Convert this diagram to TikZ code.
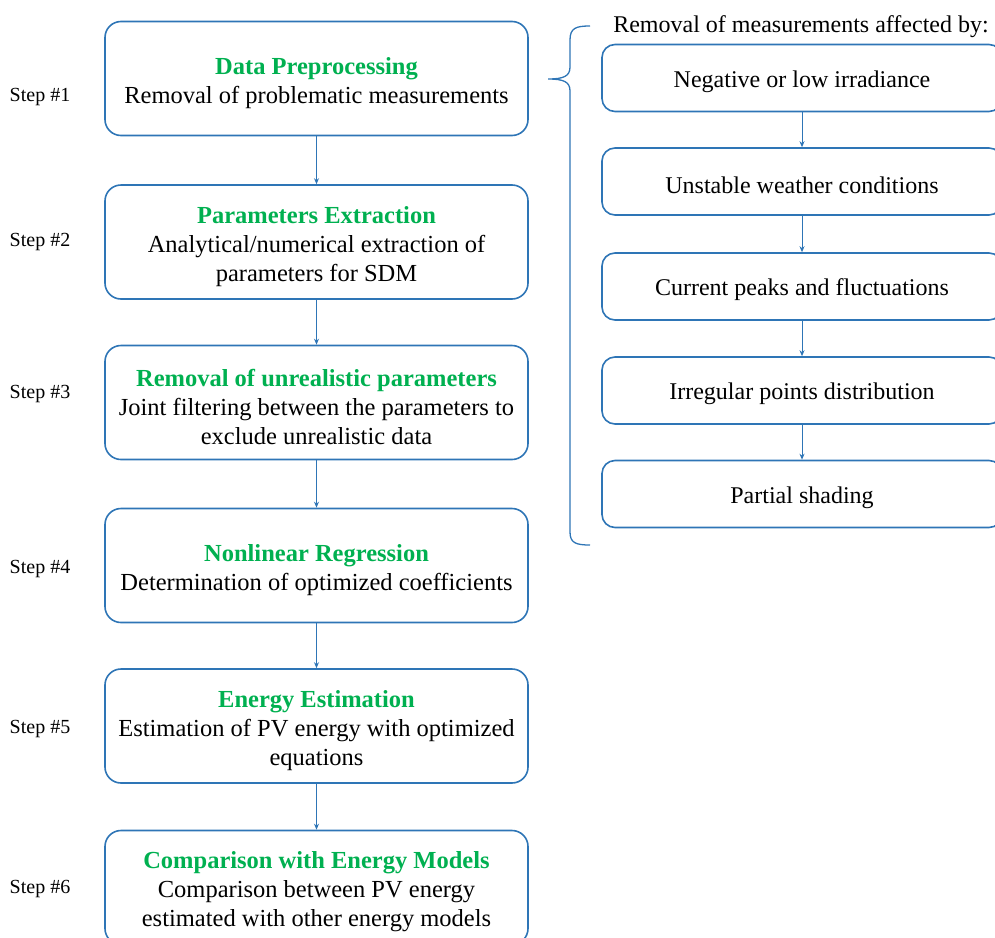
\documentclass[tikz,border=0pt]{standalone}
\usepackage{fontspec}
\setmainfont{Liberation Serif}
\usetikzlibrary{arrows.meta}
\definecolor{boxblue}{RGB}{46,117,182}
\definecolor{stepgreen}{RGB}{0,176,80}

\newcommand{\steptitle}[1]{\textcolor{stepgreen}{\textbf{#1}}}

\begin{document}
\begin{tikzpicture}[x=1pt,y=-1pt,>={Stealth[length=6pt,width=5pt]},
	stepbox/.style={draw=boxblue,line width=1.6pt,rounded corners=16pt,minimum width=423pt,minimum height=114pt,inner sep=0pt},
	causebox/.style={stepbox,minimum width=400pt,minimum height=67pt,rounded corners=13pt},
	steptext/.style={align=center,inner sep=0pt,yshift=-4.5pt,font=\fontsize{24.5}{29}\selectfont},
	causetext/.style={inner sep=0pt,yshift=-3.5pt,font=\fontsize{24}{29}\selectfont},
	steplabel/.style={font=\fontsize{20}{23}\selectfont},
	link/.style={->,draw=boxblue,line width=1pt}]
	\useasboundingbox (0,0) rectangle (995,937);
	\clip (0,0) rectangle (995,937);
	% main steps
	\node[stepbox] (prep) at (316.5,78.5) {};
	\node[stepbox] (extr) at (316.5,242) {};
	\node[stepbox] (filt) at (316.5,402.5) {};
	\node[stepbox] (regr) at (316.5,565.5) {};
	\node[stepbox] (estim) at (316.5,726) {};
	\node[stepbox] (comp) at (316.5,887.5) {};
	\node[steptext] (prep-t) at (prep) {\steptitle{Data Preprocessing}\\Removal of problematic measurements};
	\node[steptext] (extr-t) at (extr) {\steptitle{Parameters Extraction}\\Analytical/numerical extraction of\\parameters for SDM};
	\node[steptext] (filt-t) at (filt) {\steptitle{Removal of unrealistic parameters}\\Joint filtering between the parameters to\\exclude unrealistic data};
	\node[steptext] (regr-t) at (regr) {\steptitle{Nonlinear Regression}\\Determination of optimized coefficients};
	\node[steptext] (estim-t) at (estim) {\steptitle{Energy Estimation}\\Estimation of PV energy with optimized\\equations};
	\node[steptext] (comp-t) at (comp) {\steptitle{Comparison with Energy Models}\\Comparison between PV energy\\estimated with other energy models};
	\draw[link] (prep) -- (extr);
	\draw[link] (extr) -- (filt);
	\draw[link] (filt) -- (regr);
	\draw[link] (regr) -- (estim);
	\draw[link] (estim) -- (comp);
	% step numbers
	\foreach \n/\y in {1/97,2/242,3/394,4/569,5/729,6/889}
		\node[steplabel] (step\n) at (40,\y) {Step \#\n};
	% causes of removal
	\node[font=\fontsize{24}{29}\selectfont] (head) at (801,27) {Removal of measurements affected by:};
	\node[causebox] (irr) at (802,78) {};
	\node[causebox] (wthr) at (802,181.5) {};
	\node[causebox] (peak) at (802,286.5) {};
	\node[causebox] (dist) at (802,390.5) {};
	\node[causebox] (shade) at (802,494) {};
	\node[causetext] (irr-t) at (irr) {Negative or low irradiance};
	\node[causetext] (wthr-t) at (wthr) {Unstable weather conditions};
	\node[causetext] (peak-t) at (peak) {Current peaks and fluctuations};
	\node[causetext] (dist-t) at (dist) {Irregular points distribution};
	\node[causetext] (shade-t) at (shade) {Partial shading};
	\draw[link] (irr) -- (wthr);
	\draw[link] (wthr) -- (peak);
	\draw[link] (peak) -- (dist);
	\draw[link] (dist) -- (shade);
	% brace
	\draw[boxblue,line width=1.3pt] (590,26) .. controls (576,26) and (570,28) .. (570,40) -- (570,67)
		.. controls (570,76) and (564,79) .. (548,79) .. controls (564,79) and (570,82) .. (570,91)
		-- (570,532) .. controls (570,543) and (576,545) .. (590,545);
\end{tikzpicture}
\end{document}
